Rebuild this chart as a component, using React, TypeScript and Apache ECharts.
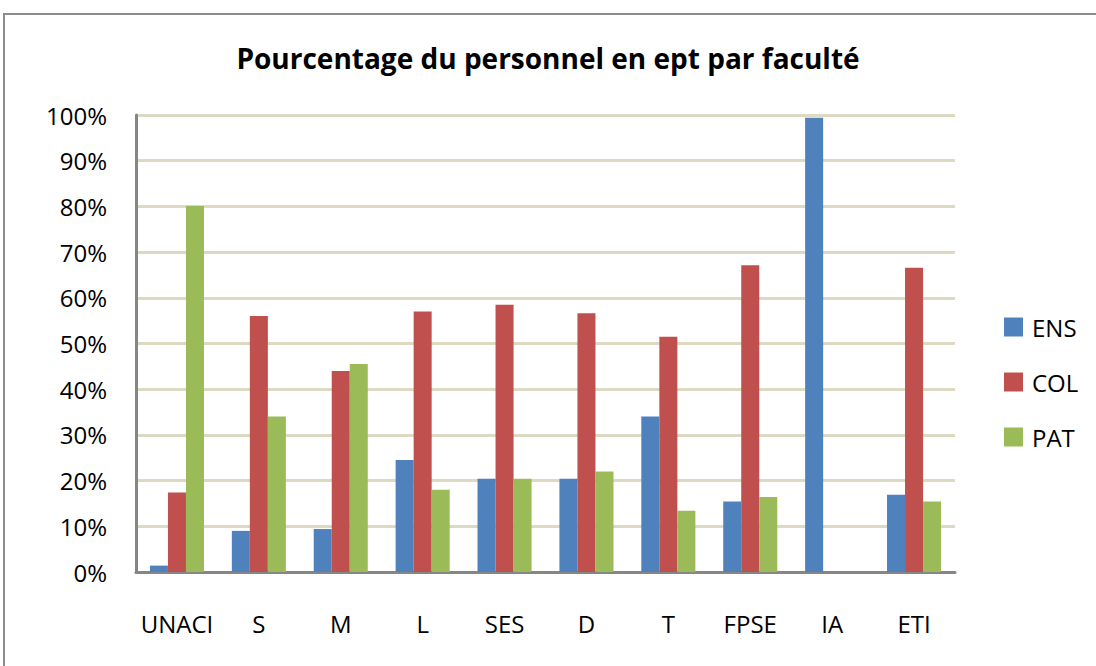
import React, { useEffect, useRef } from "react";
import * as echarts from "echarts";

const categories = ["UNACI", "S", "M", "L", "SES", "D", "T", "FPSE", "IA", "ETI"];
const ens = [1.4, 9.0, 9.4, 24.5, 20.4, 20.4, 34.0, 15.4, 99.4, 16.9];
const col = [17.4, 56.0, 44.0, 57.0, 58.5, 56.6, 51.5, 67.1, 0, 66.6];
const pat = [80.1, 34.0, 45.5, 18.0, 20.4, 22.0, 13.4, 16.4, 0, 15.4];
const seriesNames = ["ENS", "COL", "PAT"];
const colors = ["#4f81bd", "#c0504d", "#9bbb59"];
const titleText = "Pourcentage du personnel en ept par faculté";

export default function App() {
  const ref = useRef<HTMLDivElement>(null);
  useEffect(() => {
    if (!ref.current) return;
    const chart = echarts.init(ref.current, null, { renderer: "svg" });
    const font = "'Open Sans', 'Liberation Sans', sans-serif";
    const data = [ens, col, pat];
    chart.setOption({
      animation: false,
      backgroundColor: "#ffffff",
      title: {
        text: titleText,
        left: "center",
        top: 39,
        textStyle: { fontSize: 28, fontWeight: "bold", color: "#000", fontFamily: font },
      },
      legend: {
        orient: "vertical",
        left: 999,
        top: 310,
        itemWidth: 19,
        itemHeight: 19,
        itemGap: 31,
        icon: "rect",
        textStyle: { fontSize: 24, color: "#000", fontFamily: font, padding: [0, 0, 0, 4] },
        data: seriesNames,
      },
      grid: { left: 136, right: 141, top: 115, bottom: 94, containLabel: false },
      xAxis: {
        type: "category",
        data: categories,
        axisLine: { lineStyle: { color: "#868686", width: 3 } },
        axisTick: { show: false },
        axisLabel: { fontSize: 24, color: "#000", fontFamily: font, margin: 39, interval: 0 },
      },
      yAxis: {
        type: "value",
        min: 0,
        max: 100,
        interval: 10,
        axisLine: { show: true, lineStyle: { color: "#868686", width: 3 } },
        axisTick: { show: false },
        splitLine: { lineStyle: { color: "#ddd9c3", width: 3 } },
        axisLabel: {
          fontSize: 24,
          color: "#000",
          fontFamily: font,
          margin: 29,
          formatter: (v: number) => v + "%",
        },
      },
      series: seriesNames.map((n, i) => ({
        name: n,
        type: "bar",
        data: data[i],
        barGap: "0%",
        barCategoryGap: "34%",
        itemStyle: { color: colors[i] },
      })),
      graphic: [
        {
          type: "rect",
          shape: { x: 4, y: 14, width: 1200, height: 700 },
          style: { fill: "none", stroke: "#8c8c8c", lineWidth: 2 },
          silent: true,
        },
      ],
    });
    return () => chart.dispose();
  }, []);
  return (
    <div
      ref={ref}
      style={{ position: "fixed", left: 0, top: 0, width: 1096, height: 666 }}
    />
  );
}
